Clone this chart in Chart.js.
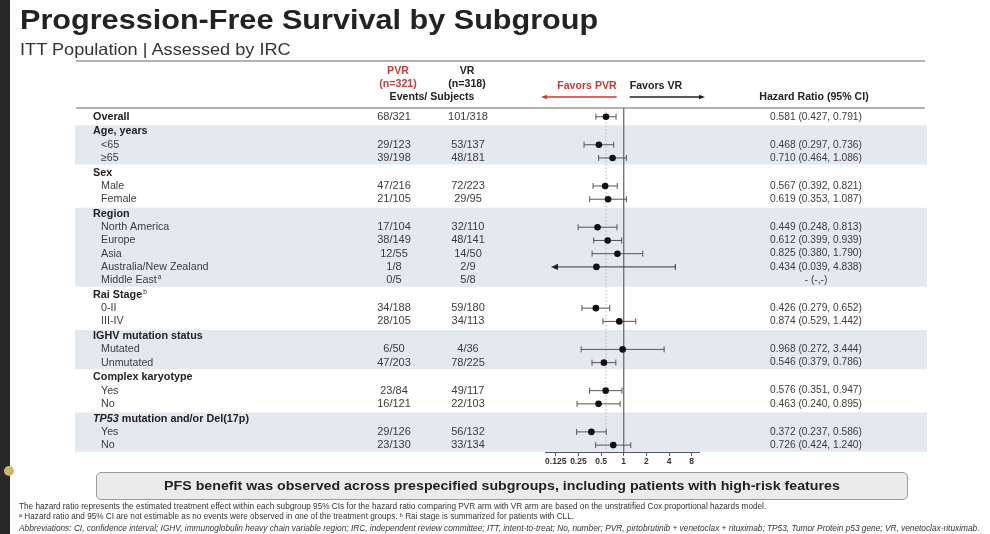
<!DOCTYPE html>
<html>
<head>
  <title>Progression-Free Survival by Subgroup</title>
  <meta charset="UTF-8">
  <script src="https://cdn.jsdelivr.net/npm/chart.js"></script>
  <style>
    body {
      margin: 0;
      width: 990px;
      height: 534px;
      overflow: hidden;
      position: relative;
      background: #fff;
      font-family: "Liberation Sans", Arial, Helvetica, sans-serif;
      color: #222;
    }
    #forest { position: absolute; left: 0; top: 0; }
    .strip { position: absolute; left: 0; top: 0; width: 10px; height: 534px; background: #26282a; }
    .dot { position: absolute; left: 4px; top: 466px; width: 10px; height: 10px; border-radius: 50%; background: #cbb76c; }
    h1 {
      position: absolute; left: 20px; top: 6px; margin: 0;
      font-size: 28px; line-height: 28px; font-weight: bold; color: #222; white-space: nowrap;
      transform: scaleX(1.093); transform-origin: 0 0;
    }
    .sub {
      position: absolute; left: 20px; top: 41px; font-size: 16.5px; line-height: 16.5px; color: #333; white-space: nowrap;
      transform: scaleX(1.1); transform-origin: 0 0;
    }
    .box {
      position: absolute; left: 96px; top: 472px; width: 810px; height: 26px;
      border: 1px solid #9a9a9a; border-radius: 5px; background: #ebebeb;
    }
    .box span {
      position: absolute; left: 0; right: 0; top: 0; text-align: center;
      font-weight: bold; font-size: 13.1px; line-height: 26px; color: #222; white-space: nowrap;
      transform: scaleX(1.085);
    }
    .notes { position: absolute; left: 19px; top: 502px; line-height: 10.4px; color: #333; }
    .notes div { white-space: nowrap; font-size: 8.2px; display: table; }
    .notes div:nth-child(3) { font-style: italic; }
    .notes sup { font-size: 5.5px; line-height: 0; vertical-align: 2.5px; }
  </style>
</head>
<body>
  <canvas id="forest" width="990" height="534"></canvas>
  <div class="strip"></div>
  <div class="dot"></div>
  <h1>Progression-Free Survival by Subgroup</h1>
  <div class="sub">ITT Population | Assessed by IRC</div>
  <div class="box"><span>PFS benefit was observed across prespecified subgroups, including patients with high-risk features</span></div>
  <div class="notes">
    <div data-w="747">The hazard ratio represents the estimated treatment effect within each subgroup 95% CIs for the hazard ratio comparing PVR arm with VR arm are based on the unstratified Cox proportional hazards model.</div>
    <div data-w="555"><sup>a</sup> Hazard ratio and 95% CI are not estimable as no events were observed in one of the treatment groups. <sup>b</sup> Rai stage is summarized for patients with CLL.</div>
    <div data-w="961">Abbreviations: CI, confidence interval; IGHV, immunoglobulin heavy chain variable region; IRC, independent review committee; ITT, intent-to-treat; No, number; PVR, pirtobrutinib + venetoclax + rituximab; TP53, Tumor Protein p53 gene; VR, venetoclax-rituximab.</div>
  </div>

  <script>
    // Subgroup rows, top to bottom
    const labels = ['Overall', 'Age, years', '<65', '\u226565', 'Sex', 'Male', 'Female',
      'Region', 'North America', 'Europe', 'Asia', 'Australia/New Zealand', 'Middle East',
      'Rai Stage', '0-II', 'III-IV', 'IGHV mutation status', 'Mutated', 'Unmutated',
      'Complex karyotype', 'Yes', 'No', 'TP53 mutation and/or Del(17p)', 'Yes', 'No'];
    const isHeader = [true, true, false, false, true, false, false,
      true, false, false, false, false, false,
      true, false, false, true, false, false,
      true, false, false, true, false, false];
    const labelSup = {12: 'a', 13: 'b'};

    const pvrEvents = ['68/321', '', '29/123', '39/198', '', '47/216', '21/105',
      '', '17/104', '38/149', '12/55', '1/8', '0/5',
      '', '34/188', '28/105', '', '6/50', '47/203',
      '', '23/84', '16/121', '', '29/126', '23/130'];
    const vrEvents = ['101/318', '', '53/137', '48/181', '', '72/223', '29/95',
      '', '32/110', '48/141', '14/50', '2/9', '5/8',
      '', '59/180', '34/113', '', '4/36', '78/225',
      '', '49/117', '22/103', '', '56/132', '33/134'];

    const hr = [0.581, null, 0.468, 0.710, null, 0.567, 0.619,
      null, 0.449, 0.612, 0.825, 0.434, null,
      null, 0.426, 0.874, null, 0.968, 0.546,
      null, 0.576, 0.463, null, 0.372, 0.726];
    const ciLow = [0.427, null, 0.297, 0.464, null, 0.392, 0.353,
      null, 0.248, 0.399, 0.380, 0.039, null,
      null, 0.279, 0.529, null, 0.272, 0.379,
      null, 0.351, 0.240, null, 0.237, 0.424];
    const ciHigh = [0.791, null, 0.736, 1.086, null, 0.821, 1.087,
      null, 0.813, 0.939, 1.790, 4.838, null,
      null, 0.652, 1.442, null, 3.444, 0.786,
      null, 0.947, 0.895, null, 0.586, 1.240];

    // shaded blocks [first row, last row]
    const shadedGroups = [[1, 3], [7, 12], [16, 18], [22, 24]];

    const tickVals = [0.125, 0.25, 0.5, 1, 2, 4, 8];
    const tickText = ['0.125', '0.25', '0.5', '1', '2', '4', '8'];
    const ciFloor = 0.115;  // CIs below this get an arrow

    const FONT = '"Liberation Sans", Arial, Helvetica, sans-serif';
    const RED = '#c93a36';
    const GROUP_GAP = 0.117; // extra space above each subgroup heading, in rows

    // row index -> position on the y scale (a bit of air before each group)
    const rowPos = [];
    let groupsSeen = 0;
    labels.forEach((l, i) => {
      if (isHeader[i] && i > 0) groupsSeen++;
      rowPos.push(i + groupsSeen * GROUP_GAP);
    });

    // stretch footnote lines to the widths they have on the slide
    document.querySelectorAll('.notes div').forEach(el => {
      const size = parseFloat(getComputedStyle(el).fontSize);
      el.style.fontSize = (size * (+el.dataset.w) / el.getBoundingClientRect().width) + 'px';
    });

    function hrText(i) {
      if (hr[i] == null) return '- (-,-)';
      return hr[i].toFixed(3) + ' (' + ciLow[i].toFixed(3) + ', ' + ciHigh[i].toFixed(3) + ')';
    }

    function txt(ctx, s, x, y, align) {
      ctx.textAlign = align || 'left';
      ctx.fillText(s, x, y);
      return ctx.measureText(s).width;
    }

    const forestTable = {
      id: 'forestTable',
      beforeDraw(chart) {
        const {ctx, scales: {y}, chartArea} = chart;
        ctx.save();
        ctx.fillStyle = '#e4e9f0';
        shadedGroups.forEach(([a, b]) => {
          const top = y.getPixelForValue(rowPos[a] - 0.47);
          const bot = y.getPixelForValue(rowPos[b] + 0.5);
          ctx.fillRect(75, top, 852, bot - top);
        });
        ctx.strokeStyle = '#9a9a9a';
        ctx.lineWidth = 1.5;
        ctx.beginPath();
        ctx.moveTo(76, 61); ctx.lineTo(925, 61);
        ctx.moveTo(76, chartArea.top); ctx.lineTo(925, chartArea.top);
        ctx.stroke();
        ctx.restore();
      },
      beforeDatasetsDraw(chart) {
        const {ctx, scales: {x, y}, chartArea} = chart;
        ctx.save();
        // overall HR dotted line
        ctx.strokeStyle = '#b5b5b5';
        ctx.lineWidth = 1;
        ctx.setLineDash([1.5, 2]);
        ctx.beginPath();
        ctx.moveTo(x.getPixelForValue(hr[0]), chartArea.top);
        ctx.lineTo(x.getPixelForValue(hr[0]), chartArea.bottom);
        ctx.stroke();
        ctx.setLineDash([]);
        // line of no effect
        ctx.strokeStyle = '#6e6e6e';
        ctx.lineWidth = 1.3;
        ctx.beginPath();
        ctx.moveTo(x.getPixelForValue(1), chartArea.top);
        ctx.lineTo(x.getPixelForValue(1), chartArea.bottom);
        ctx.stroke();
        // confidence intervals
        hr.forEach((v, i) => {
          if (v == null) return;
          const yp = y.getPixelForValue(rowPos[i]);
          const clipped = ciLow[i] < ciFloor;
          const x0 = x.getPixelForValue(clipped ? ciFloor : ciLow[i]);
          const x1 = x.getPixelForValue(ciHigh[i]);
          ctx.strokeStyle = clipped ? '#333' : '#555';
          ctx.lineWidth = 1;
          ctx.beginPath();
          ctx.moveTo(x0, yp); ctx.lineTo(x1, yp);
          if (!clipped) { ctx.moveTo(x0, yp - 3); ctx.lineTo(x0, yp + 3); }
          ctx.moveTo(x1, yp - 3); ctx.lineTo(x1, yp + 3);
          ctx.stroke();
          if (clipped) {
            ctx.fillStyle = '#222';
            ctx.beginPath();
            ctx.moveTo(x0 - 2, yp);
            ctx.lineTo(x0 + 5, yp - 3.2);
            ctx.lineTo(x0 + 5, yp + 3.2);
            ctx.closePath();
            ctx.fill();
          }
        });
        ctx.restore();
      },
      afterDraw(chart) {
        const {ctx, scales: {x, y}} = chart;
        ctx.save();
        ctx.textBaseline = 'middle';

        // column headers
        ctx.font = 'bold 10.6px ' + FONT;
        ctx.fillStyle = RED;
        txt(ctx, 'PVR', 398, 71, 'center');
        txt(ctx, '(n=321)', 398, 84, 'center');
        ctx.fillStyle = '#222';
        txt(ctx, 'VR', 467, 71, 'center');
        txt(ctx, '(n=318)', 467, 84, 'center');
        txt(ctx, 'Events/ Subjects', 432, 97, 'center');
        txt(ctx, 'Hazard Ratio (95% CI)', 814, 97, 'center');

        const one = x.getPixelForValue(1);
        ctx.fillStyle = RED;
        txt(ctx, 'Favors PVR', one - 7, 86, 'right');
        ctx.fillStyle = '#222';
        txt(ctx, 'Favors VR', one + 6, 86, 'left');

        // direction arrows
        const arrow = (from, to, color) => {
          ctx.strokeStyle = color;
          ctx.fillStyle = color;
          ctx.lineWidth = 1.6;
          ctx.beginPath();
          ctx.moveTo(from, 97); ctx.lineTo(to, 97);
          ctx.stroke();
          const d = Math.sign(to - from);
          ctx.beginPath();
          ctx.moveTo(to + d * 2, 97);
          ctx.lineTo(to - d * 4, 94.8);
          ctx.lineTo(to - d * 4, 99.2);
          ctx.closePath();
          ctx.fill();
        };
        arrow(one - 7, 543, RED);
        arrow(one + 6, 703, '#222');

        // rows
        labels.forEach((lab, i) => {
          const yp = y.getPixelForValue(rowPos[i]);
          const x0 = isHeader[i] ? 93 : 101;
          let w;
          if (isHeader[i]) {
            ctx.fillStyle = '#222';
            if (lab.startsWith('TP53')) {
              ctx.font = 'italic bold 10.8px ' + FONT;
              const wi = txt(ctx, 'TP53', x0, yp);
              ctx.font = 'bold 10.8px ' + FONT;
              w = wi + txt(ctx, lab.slice(4), x0 + wi, yp);
            } else {
              ctx.font = 'bold 10.8px ' + FONT;
              w = txt(ctx, lab, x0, yp);
            }
          } else {
            ctx.fillStyle = '#3c3c3c';
            ctx.font = '10.7px ' + FONT;
            w = txt(ctx, lab, x0, yp);
          }
          if (labelSup[i]) {
            ctx.font = '6.5px ' + FONT;
            txt(ctx, labelSup[i], x0 + w + 1, yp - 3);
          }

          ctx.fillStyle = '#3c3c3c';
          ctx.font = '11px ' + FONT;
          if (pvrEvents[i]) txt(ctx, pvrEvents[i], 394, yp, 'center');
          if (vrEvents[i]) txt(ctx, vrEvents[i], 468, yp, 'center');
          ctx.font = '10.2px ' + FONT;
          if (!isHeader[i] || i === 0) txt(ctx, hrText(i), 816, yp, 'center');
        });
        ctx.restore();
      }
    };

    const points = [];
    hr.forEach((v, i) => { if (v != null) points.push({x: v, y: rowPos[i]}); });

    new Chart(document.getElementById('forest'), {
      type: 'scatter',
      data: {
        datasets: [{
          data: points,
          pointRadius: 3.3,
          pointBackgroundColor: '#111',
          pointBorderWidth: 0
        }]
      },
      options: {
        responsive: false,
        animation: false,
        events: [],
        layout: { padding: { left: 545, right: 291, top: 108, bottom: 66 } },
        plugins: { legend: { display: false }, tooltip: { enabled: false } },
        scales: {
          x: {
            type: 'logarithmic',
            min: 0.09,
            max: 10,
            afterBuildTicks: (scale) => { scale.ticks = tickVals.map(v => ({ value: v })); },
            border: { display: true, color: '#555', width: 1 },
            grid: { drawOnChartArea: false, drawTicks: true, tickLength: 3, color: '#555' },
            ticks: {
              autoSkip: false,
              maxRotation: 0,
              padding: 1,
              color: '#333',
              font: { family: FONT, size: 8.5, weight: 'bold', lineHeight: 1.2 },
              callback: (value) => {
                const k = tickVals.indexOf(value);
                return k < 0 ? '' : tickText[k];
              }
            }
          },
          y: {
            type: 'linear',
            reverse: true,
            min: -0.66,
            max: 25.4,
            display: false
          }
        }
      },
      plugins: [forestTable]
    });
  </script>
</body>
</html>
